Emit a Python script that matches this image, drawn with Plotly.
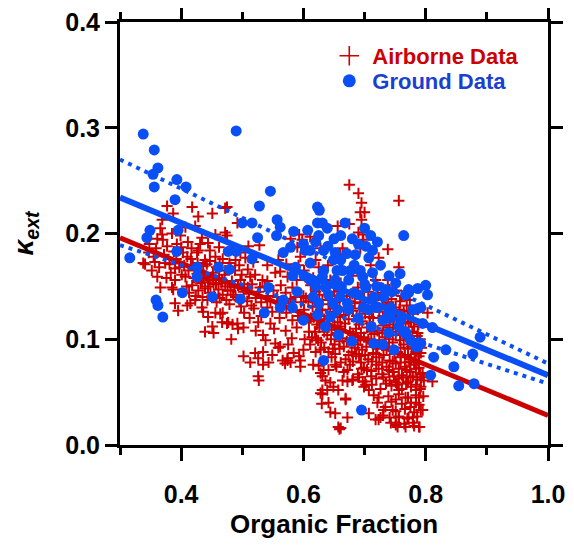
import plotly.graph_objects as go

# ---------------- data ----------------
airborne_upper_left = [(0.377,0.226),(0.418,0.225),(0.387,0.219),(0.428,0.216),(0.451,0.219),(0.472,0.224),(0.369,0.213),(0.366,0.205),(0.385,0.200),(0.407,0.206),(0.423,0.207),(0.434,0.196),(0.456,0.199),(0.472,0.201),(0.370,0.194),(0.377,0.188),(0.411,0.192),(0.428,0.184),(0.444,0.191),(0.341,0.171),(0.357,0.173),(0.352,0.165),(0.374,0.172),(0.390,0.167),(0.410,0.178),(0.426,0.182),(0.439,0.175),(0.456,0.178),(0.407,0.159),(0.390,0.156),(0.385,0.149),(0.366,0.149),(0.418,0.151),(0.434,0.154),(0.451,0.159),(0.467,0.156),(0.439,0.148),(0.492,0.210),(0.528,0.189),(0.475,0.225),(0.475,0.198),(0.510,0.188),(0.579,0.195),(0.593,0.199),(0.598,0.194),(0.590,0.187),(0.595,0.178),(0.628,0.186),(0.541,0.170),(0.554,0.163),(0.513,0.159),(0.533,0.156),(0.559,0.175),(0.574,0.159),(0.589,0.156),(0.603,0.159),(0.625,0.168),(0.489,0.175),(0.472,0.165),(0.505,0.177),(0.518,0.173),(0.338,0.172),(0.361,0.159),(0.369,0.199),(0.400,0.187),(0.611,0.197)]
airborne_left_dense = [(0.430,0.165),(0.441,0.160),(0.452,0.163),(0.462,0.158),(0.471,0.161),(0.483,0.155),(0.444,0.150),(0.453,0.153),(0.461,0.147),(0.472,0.150),(0.481,0.146),(0.493,0.151),(0.502,0.145),(0.421,0.158),(0.432,0.153),(0.448,0.144),(0.468,0.142),(0.489,0.140),(0.511,0.143),(0.522,0.139),(0.442,0.171),(0.463,0.172),(0.481,0.168),(0.499,0.161),(0.503,0.152),(0.419,0.170),(0.412,0.165),(0.401,0.161),(0.392,0.176),(0.403,0.182),(0.372,0.180),(0.359,0.186),(0.381,0.171),(0.409,0.150),(0.428,0.146),(0.443,0.137),(0.458,0.135),(0.479,0.133),(0.498,0.131),(0.519,0.129),(0.531,0.135),(0.542,0.141),(0.551,0.146),(0.563,0.151),(0.571,0.144),(0.582,0.149),(0.529,0.149),(0.521,0.161),(0.541,0.155),(0.562,0.164),(0.572,0.171),(0.581,0.166),(0.592,0.170),(0.601,0.165),(0.361,0.195),(0.348,0.190),(0.393,0.190),(0.399,0.198)]
airborne_left_dense2 = [(0.405,0.170),(0.416,0.176),(0.427,0.172),(0.436,0.169),(0.447,0.174),(0.458,0.168),(0.468,0.176),(0.479,0.172),(0.488,0.165),(0.495,0.170),(0.509,0.166),(0.516,0.152),(0.527,0.145),(0.537,0.150),(0.546,0.136),(0.557,0.140),(0.566,0.131),(0.576,0.134),(0.587,0.140),(0.596,0.135),(0.413,0.144),(0.424,0.141),(0.435,0.140),(0.454,0.141),(0.463,0.139),(0.474,0.137),(0.485,0.142),(0.495,0.137),(0.508,0.136),(0.515,0.132),(0.426,0.162),(0.437,0.158),(0.447,0.156),(0.457,0.152),(0.466,0.153),(0.476,0.146),(0.487,0.149),(0.497,0.156),(0.509,0.149),(0.388,0.183),(0.397,0.168),(0.383,0.163),(0.376,0.158),(0.364,0.168),(0.355,0.178),(0.347,0.182),(0.417,0.186),(0.431,0.190),(0.447,0.184),(0.462,0.187),(0.484,0.187),(0.497,0.182)]
airborne_mid = [(0.387,0.147),(0.390,0.134),(0.395,0.127),(0.410,0.132),(0.423,0.137),(0.436,0.126),(0.444,0.121),(0.451,0.112),(0.439,0.107),(0.453,0.106),(0.467,0.116),(0.475,0.115),(0.484,0.114),(0.482,0.100),(0.456,0.125),(0.468,0.125),(0.434,0.130),(0.415,0.134),(0.464,0.124),(0.492,0.115),(0.502,0.111)]
airborne_low_mid = [(0.502,0.084),(0.513,0.078),(0.521,0.087),(0.526,0.082),(0.534,0.088),(0.534,0.076),(0.543,0.078),(0.549,0.085),(0.526,0.065),(0.527,0.061),(0.566,0.080),(0.574,0.082),(0.579,0.078),(0.593,0.084),(0.570,0.077),(0.493,0.110),(0.477,0.116),(0.534,0.104),(0.538,0.099),(0.554,0.096),(0.559,0.092),(0.575,0.095),(0.620,0.088),(0.625,0.075),(0.631,0.065),(0.631,0.048),(0.630,0.039),(0.526,0.116),(0.546,0.115),(0.562,0.093),(0.584,0.087),(0.574,0.080),(0.595,0.080),(0.616,0.076),(0.595,0.074),(0.628,0.068)]
airborne_center = [(0.503,0.125),(0.512,0.120),(0.531,0.122),(0.549,0.126),(0.561,0.120),(0.572,0.125),(0.582,0.118),(0.591,0.122),(0.601,0.128),(0.612,0.120),(0.622,0.114),(0.552,0.110),(0.571,0.108),(0.589,0.111),(0.609,0.107),(0.561,0.135),(0.579,0.138),(0.600,0.141),(0.619,0.135),(0.631,0.128),(0.602,0.100),(0.621,0.101),(0.541,0.130),(0.522,0.108),(0.581,0.101),(0.600,0.090),(0.611,0.095),(0.616,0.158),(0.644,0.156),(0.661,0.153),(0.718,0.156),(0.693,0.186),(0.640,0.170),(0.660,0.180),(0.680,0.160),(0.710,0.170),(0.650,0.145),(0.620,0.175)]
airborne_core = [(0.612,0.151),(0.636,0.148),(0.654,0.152),(0.689,0.149),(0.716,0.151),(0.741,0.147),
    (0.604,0.139),(0.626,0.142),(0.646,0.138),(0.671,0.141),(0.699,0.139),(0.721,0.142),(0.744,0.138),(0.761,0.141),
    (0.615,0.131),(0.641,0.133),(0.659,0.130),(0.684,0.134),(0.706,0.131),(0.729,0.133),(0.751,0.130),(0.769,0.132),
    (0.621,0.124),(0.644,0.126),(0.666,0.123),(0.681,0.127),(0.701,0.124),(0.724,0.126),(0.746,0.123),(0.764,0.127),(0.779,0.124),
    (0.609,0.117),(0.634,0.119),(0.656,0.116),(0.674,0.119),(0.696,0.117),(0.714,0.120),(0.736,0.117),(0.754,0.119),(0.776,0.116),
    (0.626,0.111),(0.646,0.109),(0.661,0.112),(0.686,0.110),(0.704,0.111),(0.721,0.108),(0.741,0.111),(0.759,0.109),(0.781,0.112),
    (0.614,0.102),(0.639,0.104),(0.664,0.101),(0.681,0.104),(0.699,0.102),(0.716,0.105),(0.734,0.102),(0.751,0.104),(0.769,0.101),(0.786,0.103),
    (0.629,0.097),(0.651,0.095),(0.671,0.098),(0.689,0.095),(0.711,0.097),(0.729,0.094),(0.746,0.097),(0.764,0.095),(0.781,0.098),
    (0.641,0.088),(0.659,0.091),(0.679,0.088),(0.696,0.090),(0.714,0.087),(0.736,0.090),(0.754,0.088),(0.771,0.091),(0.784,0.088),
    (0.646,0.083),(0.669,0.081),(0.691,0.084),(0.706,0.081),(0.724,0.083),(0.741,0.080),(0.759,0.083),(0.776,0.081),(0.789,0.084),
    (0.654,0.074),(0.676,0.076),(0.699,0.073),(0.719,0.076),(0.736,0.074),(0.751,0.077),(0.766,0.074),(0.781,0.076),
    (0.666,0.069),(0.689,0.067),(0.711,0.070),(0.729,0.067),(0.746,0.069),(0.761,0.066),(0.774,0.069),(0.791,0.067),
    (0.681,0.062),(0.701,0.060),(0.719,0.063),(0.741,0.061),(0.756,0.063),(0.771,0.060),(0.786,0.062),
    (0.699,0.055),(0.726,0.053),(0.744,0.056),(0.761,0.053),(0.776,0.055),(0.791,0.053)]
airborne_core2 = [(0.620,0.145),(0.642,0.144),(0.661,0.146),(0.680,0.143),(0.706,0.145),(0.731,0.144),(0.752,0.146),
    (0.608,0.136),(0.631,0.137),(0.652,0.135),(0.676,0.136),(0.693,0.135),(0.716,0.137),(0.739,0.135),(0.758,0.136),(0.774,0.137),
    (0.628,0.128),(0.650,0.129),(0.672,0.128),(0.692,0.129),(0.712,0.127),(0.735,0.129),(0.757,0.128),(0.773,0.126),(0.787,0.128),
    (0.617,0.121),(0.639,0.122),(0.660,0.121),(0.687,0.122),(0.708,0.121),(0.730,0.122),(0.749,0.121),(0.771,0.121),
    (0.630,0.114),(0.651,0.113),(0.668,0.115),(0.691,0.114),(0.709,0.115),(0.731,0.113),(0.747,0.114),(0.767,0.115),(0.788,0.114),
    (0.619,0.107),(0.634,0.107),(0.655,0.106),(0.676,0.107),(0.694,0.106),(0.711,0.107),(0.729,0.106),(0.746,0.107),(0.764,0.106),(0.778,0.107),
    (0.624,0.099),(0.645,0.100),(0.659,0.098),(0.676,0.100),(0.693,0.099),(0.706,0.100),(0.724,0.099),(0.740,0.100),(0.758,0.099),(0.775,0.100),(0.791,0.100),
    (0.634,0.092),(0.648,0.091),(0.666,0.093),(0.684,0.092),(0.703,0.093),(0.721,0.091),(0.740,0.093),(0.759,0.092),(0.777,0.093),(0.793,0.092),
    (0.652,0.086),(0.674,0.085),(0.686,0.086),(0.701,0.085),(0.719,0.086),(0.731,0.085),(0.749,0.086),(0.766,0.085),(0.783,0.086),
    (0.661,0.078),(0.681,0.079),(0.694,0.078),(0.712,0.079),(0.729,0.078),(0.746,0.079),(0.759,0.078),(0.773,0.079),(0.788,0.078),
    (0.672,0.071),(0.695,0.072),(0.704,0.071),(0.723,0.072),(0.740,0.071),(0.756,0.072),(0.769,0.071),(0.784,0.072),
    (0.691,0.064),(0.711,0.065),(0.731,0.064),(0.748,0.065),(0.763,0.064),(0.779,0.065),(0.793,0.064),
    (0.712,0.057),(0.735,0.058),(0.753,0.057),(0.768,0.058),(0.784,0.057)]
airborne_tail = [(0.715,0.047),(0.739,0.046),(0.756,0.048),(0.771,0.045),(0.784,0.047),(0.796,0.046),(0.721,0.040),(0.744,0.041),(0.761,0.039),(0.776,0.040),(0.789,0.038),(0.731,0.033),(0.751,0.032),(0.766,0.034),(0.781,0.031),(0.795,0.033),(0.741,0.026),(0.756,0.027),(0.770,0.025),(0.786,0.027),(0.751,0.019),(0.765,0.020),(0.781,0.018),
    (0.628,0.090),(0.641,0.071),(0.636,0.061),(0.644,0.059),(0.657,0.052),(0.664,0.061),(0.680,0.061),(0.631,0.052),(0.641,0.040),(0.652,0.030),(0.669,0.043),(0.672,0.026),(0.657,0.017),(0.702,0.057),(0.707,0.052),(0.723,0.045),(0.734,0.036),(0.730,0.028),(0.718,0.024),(0.751,0.059),(0.756,0.052),(0.767,0.045),(0.751,0.043),(0.746,0.033),(0.756,0.026),(0.751,0.021),(0.767,0.017),(0.779,0.026),(0.775,0.036),(0.770,0.059),(0.652,0.076),(0.633,0.071),(0.659,0.015),(0.723,0.024),(0.743,0.021),(0.754,0.017),(0.779,0.021),(0.790,0.017),(0.803,0.125),(0.772,0.116),(0.775,0.078),(0.789,0.073),(0.775,0.064),(0.797,0.061),(0.811,0.060),(0.792,0.055),(0.789,0.045),(0.784,0.040),(0.792,0.033),(0.772,0.026),(0.789,0.017),(0.787,0.106),(0.792,0.087),(0.795,0.068),(0.784,0.052),(0.726,0.026),(0.707,0.030),(0.661,0.016),(0.669,0.044),(0.644,0.031),(0.628,0.049),(0.639,0.052),(0.649,0.055),(0.672,0.060),(0.697,0.060)]
airborne_outliers = [(0.675,0.246),(0.690,0.238),(0.695,0.229),(0.693,0.220),(0.700,0.220),(0.695,0.213),(0.756,0.231),(0.675,0.209),(0.656,0.207),(0.690,0.201),(0.697,0.199),(0.698,0.194),(0.738,0.185),(0.664,0.186),(0.723,0.177),(0.756,0.168),(0.738,0.156)]

ground_left = [(0.338,0.294),(0.356,0.279),(0.362,0.262),(0.354,0.256),(0.356,0.244),(0.393,0.251),(0.408,0.244),(0.390,0.232),(0.490,0.297),(0.349,0.203),(0.344,0.196),(0.395,0.203),(0.316,0.177),(0.393,0.183),(0.426,0.168),(0.426,0.159),(0.461,0.168),(0.479,0.166),(0.477,0.183),(0.490,0.183),(0.402,0.144),(0.451,0.140),(0.497,0.138),(0.359,0.137),(0.362,0.132),(0.370,0.121)]
ground_mid = [(0.546,0.240),(0.528,0.226),(0.500,0.210),(0.516,0.210),(0.525,0.196),(0.516,0.176),(0.557,0.213),(0.562,0.206),(0.556,0.198),(0.584,0.202),(0.607,0.203),(0.623,0.225),(0.626,0.222),(0.623,0.210),(0.631,0.210),(0.579,0.187),(0.567,0.182),(0.611,0.184),(0.543,0.149),(0.536,0.125),(0.562,0.130),(0.582,0.130),(0.600,0.118),(0.616,0.140),(0.611,0.172),(0.611,0.156),(0.633,0.165),(0.639,0.205),(0.661,0.198),(0.710,0.198),(0.764,0.198),(0.603,0.184),(0.633,0.184),(0.685,0.180),(0.707,0.177),(0.713,0.184),(0.587,0.168),(0.649,0.175),(0.661,0.175),(0.677,0.165),(0.693,0.165),(0.726,0.170),(0.567,0.137)]
ground_cluster = [(0.751,0.153),(0.787,0.148),(0.800,0.151),(0.772,0.144),(0.803,0.142),(0.792,0.130),(0.623,0.123),(0.644,0.121),(0.656,0.128),(0.672,0.134),(0.698,0.130),(0.721,0.130),(0.743,0.130),(0.759,0.118),(0.795,0.115),(0.811,0.111),(0.633,0.080),(0.657,0.104),(0.679,0.098),(0.715,0.096),(0.730,0.095),(0.748,0.090),(0.787,0.093),(0.792,0.096),(0.813,0.083),(0.833,0.090),(0.846,0.074),(0.808,0.066),(0.854,0.056),(0.879,0.058),(0.889,0.102),(0.877,0.086),(0.695,0.033),(0.764,0.107),(0.739,0.106),(0.787,0.129),(0.767,0.107),(0.789,0.097),(0.784,0.093),(0.664,0.165),(0.674,0.156),(0.697,0.159),(0.652,0.156),(0.631,0.159),(0.713,0.163),(0.772,0.147),(0.734,0.147),(0.702,0.149),(0.682,0.144),(0.636,0.149),(0.636,0.112),(0.690,0.142),(0.707,0.128),(0.730,0.118),(0.756,0.112),(0.767,0.106),(0.674,0.128),(0.648,0.134),(0.625,0.134),(0.767,0.142),(0.779,0.128),(0.775,0.099),(0.739,0.125)]
ground_dense = [(0.600,0.190),(0.620,0.192),(0.640,0.188),(0.652,0.182),(0.671,0.181),(0.690,0.190),(0.702,0.188),(0.721,0.192),(0.662,0.150),(0.683,0.170),(0.700,0.152),(0.720,0.150),(0.740,0.160),(0.758,0.162),(0.731,0.140),(0.742,0.120),(0.711,0.112),(0.690,0.120),(0.660,0.140),(0.641,0.142),(0.620,0.150),(0.601,0.160),(0.582,0.160),(0.590,0.145),(0.650,0.195),(0.680,0.195),(0.625,0.198),(0.668,0.210),(0.700,0.205),(0.745,0.145),(0.715,0.140),(0.655,0.165)]

fit_x = [0.3, 1.0]
airborne_fit = [0.196, 0.028]
ground_fit = [0.234, 0.066]
ground_fit_upper = [0.270, 0.077]
ground_fit_lower = [0.189, 0.058]

x_ticks = [0.4, 0.6, 0.8, 1.0]
x_ticktext = ["0.4", "0.6", "0.8", "1.0"]
x_minor = [0.3, 0.5, 0.7, 0.9]
y_ticks = [0.0, 0.1, 0.2, 0.3, 0.4]
y_ticktext = ["0.0", "0.1", "0.2", "0.3", "0.4"]

# ---------------- assemble ----------------
airborne = (airborne_upper_left + airborne_left_dense + airborne_left_dense2 + airborne_mid +
            airborne_low_mid + airborne_center + airborne_core + airborne_core2 +
            airborne_tail + airborne_outliers)
ground = ground_left + ground_mid + ground_cluster + ground_dense

RED = "#cc0000"
BLUE = "#0a4ff5"
BLUE_TXT = "#1a40d0"
FONT = "Liberation Sans"

fig = go.Figure()
fig.add_trace(go.Scatter(
    x=[p[0] for p in airborne], y=[p[1] for p in airborne], mode="markers",
    marker=dict(symbol="cross-thin", size=8, color=RED, line=dict(color=RED, width=2)),
    showlegend=False))
fig.add_trace(go.Scatter(x=fit_x, y=airborne_fit, mode="lines",
                         line=dict(color=RED, width=5), showlegend=False))
fig.add_trace(go.Scatter(x=fit_x, y=ground_fit_upper, mode="lines",
                         line=dict(color=BLUE, width=4, dash="4px,5px"), showlegend=False))
fig.add_trace(go.Scatter(x=fit_x, y=ground_fit_lower, mode="lines",
                         line=dict(color=BLUE, width=4, dash="4px,5px"), showlegend=False))
fig.add_trace(go.Scatter(x=fit_x, y=ground_fit, mode="lines",
                         line=dict(color=BLUE, width=6), showlegend=False))
fig.add_trace(go.Scatter(
    x=[p[0] for p in ground], y=[p[1] for p in ground], mode="markers",
    marker=dict(symbol="circle", size=11, color=BLUE), showlegend=False))

# legend entries (one legend box per entry for exact spacing)
fig.add_trace(go.Scatter(x=[None], y=[None], mode="markers", legend="legend",
    name='<span style="color:%s">Airborne Data</span>' % RED,
    marker=dict(symbol="cross-thin", size=14, color=RED, line=dict(color=RED, width=1.6))))
fig.add_trace(go.Scatter(x=[None], y=[None], mode="markers", legend="legend2",
    name='<span style="color:%s">Ground Data</span>' % BLUE_TXT,
    marker=dict(symbol="circle", size=13, color=BLUE)))

axis_common = dict(showline=True, linecolor="black", linewidth=3, mirror="ticks",
                   ticks="outside", tickcolor="black", tickwidth=3, showgrid=False,
                   zeroline=False, ticklabeloverflow="allow",
                   tickfont=dict(family=FONT, size=25, color="black", weight="bold"))

fig.update_xaxes(range=[0.3, 1.0], tickmode="array", tickvals=x_ticks, ticktext=x_ticktext,
                 ticklen=13, ticklabelstandoff=12,
                 minor=dict(tickmode="array", tickvals=x_minor, ticklen=7, tickwidth=3,
                            tickcolor="black", ticks="outside"),
                 title=dict(text="Organic Fraction", standoff=8,
                            font=dict(family=FONT, size=26, color="black", weight="bold")),
                 **axis_common)
fig.update_yaxes(range=[0.0, 0.4], tickmode="array", tickvals=y_ticks, ticktext=y_ticktext,
                 ticklen=12, ticklabelstandoff=0,
                 title=dict(text="<i>κ<sub>ext</sub></i>", standoff=24,
                            font=dict(family=FONT, size=28, color="black", weight="bold")),
                 **axis_common)

legend_font = dict(family=FONT, size=22, weight="bold")
# page body has an 8px margin: figure spans 8..574 x 8..548
fig.update_layout(
    width=566, height=540,
    margin=dict(l=112, r=26, t=14, b=103, autoexpand=False),
    plot_bgcolor="white", paper_bgcolor="white",
    legend=dict(x=0.482, y=(445 - 56) / 423, xanchor="left", yanchor="middle",
                itemwidth=36, bgcolor="rgba(0,0,0,0)", font=legend_font),
    legend2=dict(x=0.482, y=(445 - 81) / 423, xanchor="left", yanchor="middle",
                 itemwidth=36, bgcolor="rgba(0,0,0,0)", font=legend_font),
    showlegend=True,
)

fig.write_html("out.html", config={"displayModeBar": False})
